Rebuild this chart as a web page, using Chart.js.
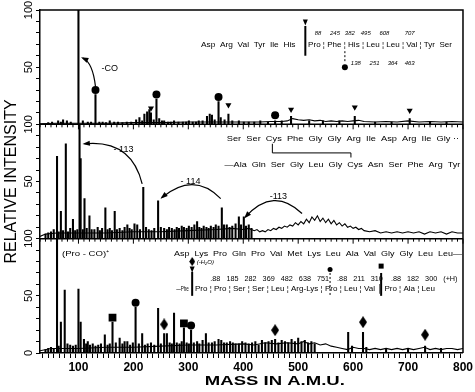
<!DOCTYPE html>
<html>
<head>
<meta charset="utf-8">
<title>Mass spectrum</title>
<script src="https://cdn.jsdelivr.net/npm/chart.js@4.4.0/dist/chart.umd.min.js"></script>
<style>
  html, body { margin: 0; padding: 0; background: #fff; }
  #wrap { position: relative; width: 475px; height: 392px; }
</style>
</head>
<body>
<div id="wrap"><canvas id="spec" width="475" height="392"></canvas></div>
<script>
// ---- peaks (mass, % intensity) ----
var topMass = [45, 52, 63, 68, 72, 79, 86, 100, 108, 117, 123, 131, 138, 144, 150, 157, 165, 172, 180, 188, 196, 205, 211, 216, 220, 225, 229, 232, 237, 242, 247, 252, 256, 263, 268, 274, 282, 290, 296, 301, 308, 314, 319, 326, 334, 339, 343, 348, 355, 359, 366, 373, 380, 392, 401, 410, 420, 431, 445, 458, 470, 487, 520, 545, 575, 603, 640, 670, 703, 740, 770];
var topInt  = [1.5, 2, 3, 2, 4, 3, 2, 100, 3, 2, 2, 26, 2, 2, 1.5, 3, 2, 2, 1.5, 2, 2, 4, 6, 3, 9, 11, 13, 10, 4, 22, 5, 3, 3, 2, 2, 3, 2, 2, 2, 3, 2, 2, 3, 3, 7, 9, 8, 4, 20, 6, 4, 9, 3, 3, 2, 2, 2, 3, 2, 3, 3, 7, 3, 3, 3, 7, 2, 2, 5, 2, 2];
var topBaseMass = [30, 60, 100, 150, 200, 250, 300, 350, 400, 430, 450, 470, 480, 490, 500, 510, 520, 530, 540, 550, 560, 570, 580, 590, 600, 610, 620, 640, 660, 680, 700, 720, 740, 760, 780, 800];
var topBaseInt  = [0.5, 1, 1, 1, 1.5, 1.5, 2, 2, 2, 2, 2.5, 2.5, 3, 5, 4, 3.5, 4, 3, 3.5, 2.5, 3, 2.5, 3, 2.5, 3, 3.5, 2.5, 2, 2.5, 2, 3, 2, 2.5, 2, 2.5, 2];

var midMass = [40, 45, 50, 55, 61, 64, 68, 72, 77, 81, 85, 90, 94, 98, 102, 104, 108, 111, 115, 120, 124, 129, 135, 139, 143, 149, 153, 157, 161, 166, 170, 175, 180, 184, 189, 193, 197, 202, 207, 212, 218, 223, 228, 233, 238, 245, 250, 256, 261, 265, 270, 275, 279, 283, 288, 292, 297, 301, 306, 311, 316, 320, 324, 328, 333, 337, 341, 346, 350, 355, 361, 365, 370, 375, 380, 386, 392, 396, 401, 405, 410, 415];
var midInt  = [4, 5, 6, 8, 72, 6, 24, 7, 83, 6, 9, 17, 7, 8, 100, 70, 8, 35, 9, 20, 8, 8, 10, 7, 9, 27, 8, 9, 7, 24, 8, 9, 7, 10, 12, 9, 8, 13, 12, 8, 45, 10, 8, 7, 9, 33, 10, 9, 8, 10, 9, 8, 10, 9, 11, 10, 9, 11, 10, 12, 15, 10, 9, 11, 10, 9, 11, 10, 12, 11, 27, 12, 12, 10, 11, 13, 19, 12, 19, 11, 12, 9];
var midBaseMass = [30, 40, 60, 100, 150, 200, 250, 300, 350, 380, 400, 410, 420, 425, 430, 435, 440, 445, 450, 455, 460, 465, 470, 475, 480, 485, 490, 495, 500, 505, 510, 515, 520, 525, 530, 535, 540, 545, 550, 555, 560, 565, 570, 575, 580, 585, 590, 595, 600, 605, 610, 615, 620, 630, 640, 650, 660, 670, 680, 690, 700, 710, 720, 730, 740, 750, 760, 770, 780, 790, 800];
var midBaseInt  = [2, 4, 5, 5, 5, 6, 6, 7, 8, 9, 8, 9, 7, 8, 6, 7, 6, 8, 7, 9, 8, 10, 9, 11, 10, 12, 11, 14, 12, 15, 13, 17, 14, 19, 16, 20, 15, 18, 14, 17, 13, 16, 12, 14, 11, 13, 10, 11, 9, 10, 8, 9, 7, 6, 7, 5, 6, 5, 6, 5, 6, 5, 6, 4, 6, 5, 6, 4, 6, 5, 5];

var botMass = [40, 45, 50, 55, 61, 64, 68, 75, 80, 85, 90, 95, 100, 104, 110, 114, 117, 121, 126, 131, 136, 141, 148, 153, 157, 162, 168, 175, 180, 184, 189, 194, 199, 204, 210, 216, 221, 226, 232, 238, 245, 250, 256, 261, 266, 270, 274, 279, 284, 288, 292, 297, 301, 305, 310, 316, 320, 326, 332, 337, 343, 348, 355, 360, 365, 370, 376, 381, 386, 392, 398, 404, 410, 416, 422, 428, 434, 440, 446, 452, 458, 464, 470, 476, 482, 488, 494, 500, 506, 512, 518, 524, 530, 591, 598, 618, 624, 660, 700, 731, 760];
var botInt  = [3, 4, 5, 4, 100, 6, 27, 55, 8, 7, 6, 7, 56, 27, 12, 8, 10, 7, 8, 6, 7, 8, 16, 7, 8, 27, 9, 13, 8, 10, 10, 7, 9, 40, 8, 17, 7, 8, 9, 7, 39, 8, 17, 17, 9, 8, 35, 9, 8, 10, 22, 9, 8, 20, 9, 10, 8, 11, 17, 9, 9, 10, 12, 11, 9, 9, 10, 9, 8, 8, 10, 9, 8, 9, 10, 7, 11, 9, 10, 11, 12, 9, 11, 10, 9, 12, 10, 13, 10, 11, 9, 10, 8, 18, 6, 18, 5, 4, 4, 6, 4];
var botBaseMass = [30, 50, 100, 150, 200, 250, 300, 350, 400, 420, 440, 460, 480, 500, 510, 520, 530, 540, 550, 560, 570, 580, 590, 600, 610, 620, 630, 640, 650, 660, 670, 680, 690, 700, 710, 720, 730, 740, 750, 760, 770, 780, 790, 800];
var botBaseInt  = [2, 4, 4, 5, 5, 6, 7, 7, 8, 7, 9, 8, 9, 8, 10, 8, 9, 7, 8, 6, 5, 4, 3, 5, 4, 4, 3, 4, 3, 4, 3, 4, 3, 4, 3, 4, 5, 3, 4, 3, 4, 4, 3, 4];

// ---- peak markers ----
var topCircleMass = [131, 242, 355, 458];
var topCircleInt  = [30, 26, 24, 8];
var topTriMass = [232, 373, 487, 603, 703];
var topTriInt  = [14, 17, 13, 15, 12];
var botSquareMass = [162, 292];
var botSquareInt  = [31, 26];
var botCircleMass = [204, 305];
var botCircleInt  = [44, 24];
var botDiamondMass = [256, 458, 618, 731];
var botDiamondInt  = [25, 20, 27, 16];

var xTickLabels = [100, 200, 300, 400, 500, 600, 700, 800];

var FONT = "'Liberation Sans', Arial, sans-serif";

function pts(ms, vs) {
  var out = [];
  for (var i = 0; i < ms.length; i++) out.push({ x: ms[i], y: vs[i] });
  return out;
}

// tall diamond used as point style
var diamond = document.createElement('canvas');
diamond.width = 8; diamond.height = 12;
(function () {
  var c = diamond.getContext('2d');
  c.fillStyle = '#000';
  c.beginPath();
  c.moveTo(4, 0); c.lineTo(8, 6); c.lineTo(4, 12); c.lineTo(0, 6);
  c.closePath(); c.fill();
})();

function bars(data, axis) {
  return { type: 'bar', data: data, xAxisID: 'x', yAxisID: axis, backgroundColor: '#000',
           barThickness: 1.4, grouped: false, borderWidth: 0 };
}
function base(data, axis) {
  return { type: 'line', data: data, xAxisID: 'x', yAxisID: axis, borderColor: '#000',
           borderWidth: 1.1, pointRadius: 0, tension: 0, fill: false };
}
function marks(data, axis, style, r, rot) {
  return { type: 'scatter', data: data, xAxisID: 'x', yAxisID: axis, pointStyle: style,
           pointRadius: r, pointRotation: rot || 0, backgroundColor: '#000', borderColor: '#000', borderWidth: 0 };
}

function yAxis(shown, title) {
  return {
    type: 'linear', position: 'left', stack: 'spec', stackWeight: 1,
    min: 0, max: 100,
    grid: { drawOnChartArea: false, tickLength: 4, color: '#000' },
    border: { color: '#000', width: 1.5 },
    ticks: {
      stepSize: 10, autoSkip: false, minRotation: 90, maxRotation: 90,
      crossAlign: 'center', padding: -2, color: '#000',
      font: { family: FONT, size: 11 },
      callback: function (v) { return shown.indexOf(v) >= 0 ? String(v) : ''; }
    },
    title: title ? { display: true, text: title, color: '#000', font: { family: FONT, size: 16 },
                     padding: { top: 2, bottom: 0 } } : { display: false },
    afterFit: function (s) { s.width = 40; }
  };
}

// ---- text / arrows drawn over the panels, placed through the scales ----
var seqRows = [
  ['yTop', 'Asp  Arg  Val  Tyr  Ile  His', 323, 495, 70],
  ['yTop', 'Pro \u00a6 Phe \u00a6 His \u00a6 Leu \u00a6 Leu \u00a6 Val \u00a6 Tyr  Ser', 518, 780, 70],
  ['yMid', 'Ser  Ser  Cys  Phe  Gly  Gly  Arg  Ile  Asp  Arg  Ile  Gly \u00b7\u00b7', 370, 793, 87],
  ['yMid', '\u2014Ala  Gln  Ser  Gly  Leu  Gly  Cys  Asn  Ser  Phe  Arg  Tyr', 366, 795, 65],
  ['yBot', '(Pro - CO)\u207a', 70, 157, 87],
  ['yBot', 'Asp  Lys  Pro  Gln  Pro  Val  Met  Lys  Leu  Ala  Val  Gly  Gly  Leu  Leu\u2014', 274, 798, 87],
  ['yBot', '\u2014Phe', 278, 301, 56],
  ['yBot', 'Pro \u00a6 Pro \u00a6 Ser \u00a6 Ser \u00a6 Leu \u00a6 Arg-Lys \u00a6 Pro \u00a6 Leu \u00a6 Val \u2502 Pro \u00a6 Ala \u00a6 Leu', 312, 749, 56],
  ['yBot', '.88   185   282   369   482   638   751    .88   211   310    .88   182   300   (+H)', 340, 790, 65]
];
var smallNums = [
  ['yTop', '88', 536, 80], ['yTop', '245', 567, 80], ['yTop', '382', 594, 80],
  ['yTop', '495', 623, 80], ['yTop', '608', 657, 80], ['yTop', '707', 703, 80],
  ['yTop', '138', 605, 53], ['yTop', '251', 639, 53], ['yTop', '364', 672, 53], ['yTop', '463', 703, 53],
  ['yBot', '(-H\u2082O)', 331, 79]
];
var arrowLabels = [
  ['yTop', '-CO', 157, 49], ['yMid', '- 113', 182, 78],
  ['yMid', '- 114', 304, 50], ['yMid', '-113', 464, 37]
];
var arrows = [
  ['yTop', 131, 33, 126, 54, 108, 58],
  ['yMid', 216, 48, 196, 87, 111, 83],
  ['yMid', 359, 35, 310, 59, 252, 36],
  ['yMid', 507, 22, 455, 46, 404, 19]
];

var overlay = {
  id: 'overlay',
  afterDatasetsDraw: function (chart) {
    var ctx = chart.ctx, xs = chart.scales.x, a = chart.chartArea;
    function X(m) { return xs.getPixelForValue(m); }
    function Y(id, v) { return chart.scales[id].getPixelForValue(v); }
    function squeeze(str, x0, x1, y) {
      var w = ctx.measureText(str).width;
      ctx.save();
      ctx.translate(x0, y);
      ctx.scale((x1 - x0) / w, 1);
      ctx.textAlign = 'left';
      ctx.fillText(str, 0, 0);
      ctx.restore();
    }
    ctx.save();
    ctx.fillStyle = '#000'; ctx.strokeStyle = '#000';

    // frame and inner baselines with their ticks
    var inner = [chart.scales.yTop.bottom, chart.scales.yMid.bottom];
    ctx.lineWidth = 1.5;
    ctx.beginPath();
    ctx.moveTo(a.left, a.top); ctx.lineTo(a.right, a.top); ctx.lineTo(a.right, a.bottom);
    inner.forEach(function (yb) { ctx.moveTo(a.left, yb); ctx.lineTo(a.right, yb); });
    ctx.stroke();
    ctx.lineWidth = 1;
    ctx.beginPath();
    xs.ticks.forEach(function (t) {
      var px = X(t.value);
      inner.forEach(function (yb) { ctx.moveTo(px, yb); ctx.lineTo(px, yb + (t.value % 100 === 0 ? 5 : 3)); });
    });
    ctx.stroke();

    // sequence rows squeezed to their span
    ctx.textBaseline = 'middle';
    ctx.font = '8px ' + FONT;
    seqRows.forEach(function (r) { squeeze(r[1], X(r[2]), X(r[3]), Y(r[0], r[4])); });
    ctx.textAlign = 'center';
    ctx.font = 'italic 6px ' + FONT;
    smallNums.forEach(function (n) { ctx.fillText(n[1], X(n[2]), Y(n[0], n[3])); });
    ctx.font = '9px ' + FONT;
    arrowLabels.forEach(function (n) { ctx.fillText(n[1], X(n[2]), Y(n[0], n[3])); });

    // curved arrows
    ctx.lineWidth = 1.2;
    arrows.forEach(function (r) {
      var x0 = X(r[1]), y0 = Y(r[0], r[2]), cx = X(r[3]), cy = Y(r[0], r[4]), x1 = X(r[5]), y1 = Y(r[0], r[6]);
      ctx.beginPath(); ctx.moveTo(x0, y0); ctx.quadraticCurveTo(cx, cy, x1, y1); ctx.stroke();
      var ang = Math.atan2(y1 - cy, x1 - cx);
      ctx.beginPath();
      ctx.moveTo(x1 + Math.cos(ang) * 2, y1 + Math.sin(ang) * 2);
      ctx.lineTo(x1 - Math.cos(ang - 0.45) * 6, y1 - Math.sin(ang - 0.45) * 6);
      ctx.lineTo(x1 - Math.cos(ang + 0.45) * 6, y1 - Math.sin(ang + 0.45) * 6);
      ctx.closePath(); ctx.fill();
    });

    // cleavage bars and the bracket
    function vline(id, m, v0, v1, dash, lw) {
      ctx.save(); ctx.lineWidth = lw || 1; ctx.setLineDash(dash || []);
      ctx.beginPath(); ctx.moveTo(X(m), Y(id, v0)); ctx.lineTo(X(m), Y(id, v1)); ctx.stroke();
      ctx.restore();
    }
    function tri(id, m, v) {
      var x = X(m), y = Y(id, v);
      ctx.beginPath(); ctx.moveTo(x - 2.5, y - 3); ctx.lineTo(x + 2.5, y - 3); ctx.lineTo(x, y + 3); ctx.closePath(); ctx.fill();
    }
    function dot(id, m, v, r) { ctx.beginPath(); ctx.arc(X(m), Y(id, v), r, 0, Math.PI * 2); ctx.fill(); }

    vline('yTop', 513, 60, 86, null, 2);
    tri('yTop', 513, 89);
    vline('yTop', 585, 64, 54, [2, 2], 1);
    dot('yTop', 585, 50, 3);

    ctx.lineWidth = 1;
    ctx.beginPath();
    ctx.moveTo(X(453), Y('yMid', 83)); ctx.lineTo(X(453), Y('yMid', 75));
    ctx.lineTo(X(596), Y('yMid', 75)); ctx.lineTo(X(596), Y('yMid', 71));
    ctx.stroke();

    vline('yBot', 307, 71, 50, null, 2);
    tri('yBot', 307, 73);
    ctx.drawImage(diamond, X(307) - 3, Y('yBot', 80) - 4.5, 6, 9);
    vline('yBot', 558, 70, 50, [2, 2], 1);
    dot('yBot', 558, 73, 2.5);
    vline('yBot', 651, 70, 50, null, 2);
    ctx.fillRect(X(651) - 2.5, Y('yBot', 76) - 2.5, 5, 5);

    // x-axis title
    ctx.font = 'bold 13px ' + FONT;
    squeeze('MASS IN A.M.U.', X(330), X(585), 381);
    ctx.restore();
  }
};

new Chart(document.getElementById('spec'), {
  type: 'line',
  data: {
    datasets: [
      bars(pts(topMass, topInt), 'yTop'),
      base(pts(topBaseMass, topBaseInt), 'yTop'),
      marks(pts(topCircleMass, topCircleInt), 'yTop', 'circle', 4),
      marks(pts(topTriMass, topTriInt), 'yTop', 'triangle', 3.5, 180),
      bars(pts(midMass, midInt), 'yMid'),
      base(pts(midBaseMass, midBaseInt), 'yMid'),
      bars(pts(botMass, botInt), 'yBot'),
      base(pts(botBaseMass, botBaseInt), 'yBot'),
      marks(pts(botSquareMass, botSquareInt), 'yBot', 'rect', 5.5),
      marks(pts(botCircleMass, botCircleInt), 'yBot', 'circle', 4),
      marks(pts(botDiamondMass, botDiamondInt), 'yBot', diamond, 5)
    ]
  },
  options: {
    responsive: false,
    animation: false,
    events: [],
    layout: { padding: { left: 0, right: 8, top: 10, bottom: 0 } },
    plugins: { legend: { display: false }, tooltip: { enabled: false } },
    scales: {
      x: {
        type: 'linear', position: 'bottom', min: 30, max: 800, offset: false,
        grid: { drawOnChartArea: false, tickLength: 5, color: '#000' },
        border: { color: '#000', width: 1.5 },
        ticks: {
          stepSize: 10, autoSkip: false, maxRotation: 0, padding: 2, color: '#000',
          font: { family: FONT, size: 12, weight: 'bold' },
          callback: function (v) { return xTickLabels.indexOf(v) >= 0 ? String(v) : ''; }
        },
        afterFit: function (s) { s.height = 39; }
      },
      yBot: yAxis([0, 50, 100]),
      yMid: yAxis([50, 100], 'RELATIVE INTENSITY'),
      yTop: yAxis([50, 100])
    }
  },
  plugins: [overlay]
});
</script>
</body>
</html>
